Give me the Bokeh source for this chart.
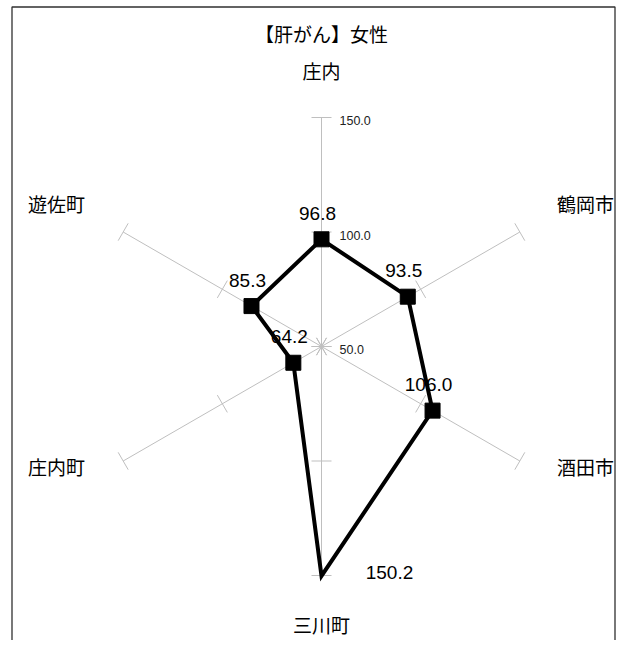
import math
from bokeh.plotting import figure
from bokeh.models import Range1d, ColumnDataSource
from bokeh.core.properties import value
from bokeh.embed import file_html
from bokeh.resources import INLINE

title_text = "【肝がん】女性"
categories = ["庄内", "鶴岡市", "酒田市", "三川町", "庄内町", "遊佐町"]
values = [96.8, 93.5, 106.0, 150.2, 64.2, 85.3]
value_labels = ["96.8", "93.5", "106.0", "150.2", "64.2", "85.3"]
scale_ticks = [50.0, 100.0, 150.0]
tick_labels = ["50.0", "100.0", "150.0"]

# layout (pixels)
W, H = 616, 640
CX, CY = 321, 346           # centre of the radar within the plot
RMAX = 229                  # radius of the outer ring (150)
vmin, vmax = scale_ticks[0], scale_ticks[-1]
angles = [90 - 60 * i for i in range(len(categories))]

def rad(v):
    return (v - vmin) / (vmax - vmin) * RMAX

def pt(v, ang):
    r = rad(v)
    a = math.radians(ang)
    return r * math.cos(a), r * math.sin(a)

p = figure(width=W, height=H, output_backend="svg", toolbar_location=None,
           x_range=Range1d(-CX, W - CX), y_range=Range1d(-(H - CY), CY),
           min_border=0)
p.axis.visible = False
p.grid.visible = False
p.outline_line_color = None
p.background_fill_color = "white"

# chart-area border
bl, bt, br = 11.5 - CX, CY - 6.5, W - 1.5 - CX
bb = -(H - CY) - 5
p.multi_line([[bl, bl, br, br]], [[bb, bt, bt, bb]], line_color="#303030", line_width=1.3)

GRAY = "#BFBFBF"
xs, ys = [], []
for ang in angles:
    x1, y1 = pt(vmax, ang)
    xs.append([0, x1]); ys.append([0, y1])
    a = math.radians(ang)
    px, py = -math.sin(a), math.cos(a)
    for t in scale_ticks:
        tx, ty = pt(t, ang)
        xs.append([tx - 10 * px, tx + 10 * px]); ys.append([ty - 10 * py, ty + 10 * py])
p.multi_line(xs, ys, line_color=GRAY, line_width=1)

# tick labels on the top axis
for t, lab in zip(scale_ticks, tick_labels):
    tx, ty = pt(t, 90)
    p.text([tx + 18], [ty - 3], text=[lab], text_font=value("Liberation Sans"),
           text_font_size="12.5px", text_align="left", text_baseline="middle",
           text_color="#222222")

# data polygon
px_ = [pt(v, a)[0] for v, a in zip(values, angles)]
py_ = [pt(v, a)[1] for v, a in zip(values, angles)]
p.line(px_ + px_[:1], py_ + py_[:1], line_color="black", line_width=4, line_join="miter")
marker_size = [15, 15, 15, 0, 15, 15]
p.scatter(px_, py_, marker="square", size=marker_size, fill_color="black", line_color="black")

# value labels
dx = [-4, -4, -4, 68, -4, -4]
dy = [26, 26, 26, 3, 26, 26]
src = ColumnDataSource(dict(x=[a + b for a, b in zip(px_, dx)],
                            y=[a + b for a, b in zip(py_, dy)],
                            t=value_labels))
p.text("x", "y", text="t", source=src, text_font=value("Liberation Sans"),
       text_font_size="19px", text_align="center", text_baseline="middle",
       text_color="black")

# category labels
lab_x = [0, 264, 264, 0, -265, -265]
lab_y = [276, 143, -120, -278, -120, 143]
p.text(lab_x, lab_y, text=categories, text_font=value("Noto Sans CJK JP"),
       text_font_size="19px", text_align="center", text_baseline="middle",
       text_color="black")

# title
p.text([0], [313], text=[title_text], text_font=value("Noto Sans CJK JP"),
       text_font_size="19px", text_align="center", text_baseline="middle",
       text_color="black")

open("out.html", "w").write(file_html(p, INLINE))
